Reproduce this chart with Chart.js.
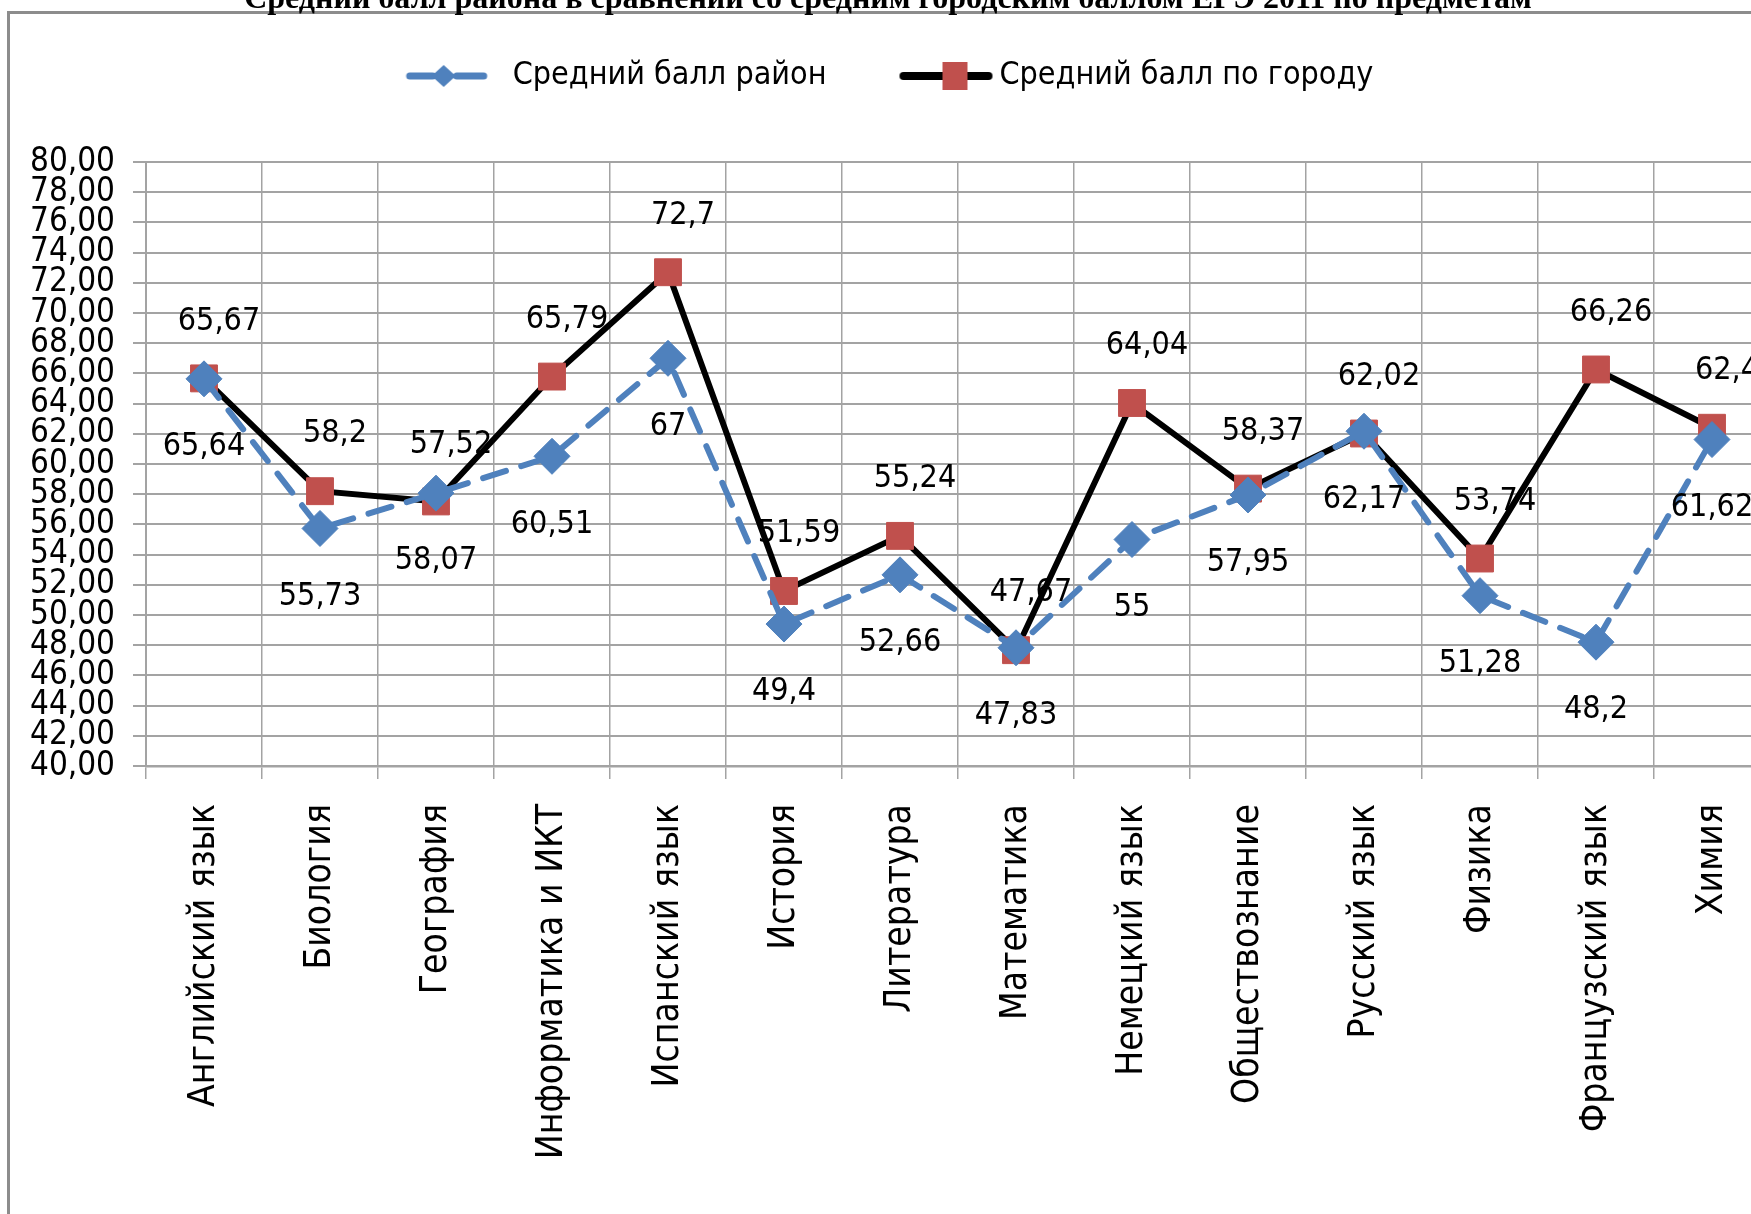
<!DOCTYPE html>
<html lang="ru">
<head>
<meta charset="utf-8">
<title>Средний балл района в сравнении со средним городским баллом ЕГЭ 2011</title>
<script src="https://cdn.jsdelivr.net/npm/chart.js@4.4.1/dist/chart.umd.min.js"></script>
<style>
  html, body { margin: 0; padding: 0; background: #fff; overflow: hidden; }
  body { width: 1751px; height: 1214px; position: relative; }
  #title {
    position: absolute; left: 0; top: -19px; width: 1776px;
    text-align: center; font: bold 32px "Liberation Serif", "Times New Roman", serif;
    line-height: 33px; color: #000; white-space: nowrap; z-index: 3;
  }
  #frame {
    position: absolute; left: 7px; top: 11px; width: 2000px; height: 2000px;
    border-left: 3px solid #8c8c8c; border-top: 3px solid #8c8c8c; z-index: 1;
  }
  #wrap { position: absolute; left: 0; top: 0; width: 1790px; height: 1214px; z-index: 2; }
</style>
</head>
<body>
<div id="title">Средний балл района в сравнении со средним городским баллом ЕГЭ 2011 по предметам</div>
<div id="frame"></div>
<div id="wrap"><canvas id="chart"></canvas></div>
<script>
// subjects on the x axis
const subjects = [
  "Английский язык", "Биология", "География", "Информатика и ИКТ",
  "Испанский язык", "История", "Литература", "Математика",
  "Немецкий язык", "Обществознание", "Русский язык", "Физика",
  "Французский язык", "Химия"
];

// average score of the district
const districtScores = [65.64, 55.73, 58.07, 60.51, 67, 49.4, 52.66, 47.83, 55, 57.95, 62.17, 51.28, 48.2, 61.62];
// average score of the city
const cityScores = [65.67, 58.2, 57.52, 65.79, 72.7, 51.59, 55.24, 47.67, 64.04, 58.37, 62.02, 53.74, 66.26, 62.4];

const seriesNames = ["Средний балл район", "Средний балл по городу"];

// y axis range
const yMin = 40;
const yMax = 80;
const yStep = 2;

const BLUE = "#4F81BD";
const RED = "#C0504D";
const GRID = "#a3a3a3";
const COND = '"DejaVu Sans Condensed", "DejaVu Sans", sans-serif';

// comma as decimal separator, like the source
const fmt = (v) => String(v).replace(".", ",");

// legend icons: line + marker, drawn on small canvases
function blueIcon() {
  const c = document.createElement("canvas");
  c.width = 100; c.height = 40;
  const g = c.getContext("2d");
  g.strokeStyle = BLUE; g.lineWidth = 7; g.lineCap = "round";
  g.beginPath(); g.moveTo(13, 20); g.lineTo(36, 20); g.stroke();
  g.beginPath(); g.moveTo(60, 20); g.lineTo(87, 20); g.stroke();
  g.fillStyle = BLUE;
  g.beginPath(); g.moveTo(35, 20); g.lineTo(47, 9); g.lineTo(59, 20); g.lineTo(47, 31); g.closePath(); g.fill();
  return c;
}
function redIcon() {
  const c = document.createElement("canvas");
  c.width = 126; c.height = 40;
  const g = c.getContext("2d");
  g.strokeStyle = "#000"; g.lineWidth = 8; g.lineCap = "round";
  g.beginPath(); g.moveTo(33, 20); g.lineTo(118, 20); g.stroke();
  g.fillStyle = RED;
  g.fillRect(72, 6, 25, 28);
  return c;
}
const legendIcons = [blueIcon(), redIcon()];

// where the value labels sit relative to each point
const labelShift = [
  { dx: 0, dy: 68 },   // district: below
  { dx: 15, dy: -57 }  // city: above
];

const valueLabels = {
  id: "valueLabels",
  afterDatasetsDraw(chart) {
    const ctx = chart.ctx;
    ctx.save();
    ctx.font = "32px " + COND;
    ctx.fillStyle = "#000";
    ctx.textAlign = "center";
    ctx.textBaseline = "middle";
    chart.data.datasets.forEach((ds, i) => {
      const meta = chart.getDatasetMeta(i);
      meta.data.forEach((pt, j) => {
        ctx.fillText(fmt(ds.data[j]), pt.x + labelShift[i].dx, pt.y + labelShift[i].dy);
      });
    });
    ctx.restore();
  }
};

const chartData = {
  labels: subjects,
  datasets: [
    {
      label: seriesNames[0],
      data: districtScores,
      borderColor: BLUE,
      backgroundColor: BLUE,
      borderWidth: 6,
      borderDash: [24, 16],
      borderCapStyle: "round",
      tension: 0,
      pointStyle: "rectRot",
      pointRadius: 18,
      pointBackgroundColor: BLUE,
      pointBorderColor: BLUE,
      pointBorderWidth: 1
    },
    {
      label: seriesNames[1],
      data: cityScores,
      borderColor: "#000",
      backgroundColor: RED,
      borderWidth: 6,
      tension: 0,
      pointStyle: "rect",
      pointRadius: 19,
      pointBackgroundColor: RED,
      pointBorderColor: RED,
      pointBorderWidth: 1
    }
  ]
};

const chartOptions = {
  responsive: true,
  maintainAspectRatio: false,
  animation: false,
  layout: { padding: { top: 3, left: 0, right: 20, bottom: 0 } },
  plugins: {
    tooltip: { enabled: false },
    legend: {
      position: "top",
      labels: {
        usePointStyle: true,
        pointStyleWidth: 100,
        padding: 57,
        color: "#000",
        font: { size: 32, family: COND },
        generateLabels: (chart) => chart.data.datasets.map((ds, i) => ({
          text: ds.label,
          pointStyle: legendIcons[i],
          fontColor: "#000",
          lineWidth: 0,
          datasetIndex: i
        }))
      }
    },
    // empty box that keeps the gap between legend and plot
    subtitle: {
      display: true,
      text: "",
      weight: 500,
      font: { size: 1, lineHeight: 1 },
      padding: { top: 59, bottom: 0 }
    }
  },
  scales: {
    x: {
      offset: true,
      grid: { offset: true, color: GRID, lineWidth: 1.5, tickLength: 13 },
      border: { color: GRID, width: 2.5 },
      ticks: {
        autoSkip: false,
        maxRotation: 90,
        minRotation: 90,
        padding: 25,
        color: "#000",
        font: { size: 37, family: COND }
      },
      afterFit: (scale) => { scale.height = 1214 - 766; }
    },
    y: {
      min: yMin,
      max: yMax,
      grid: { color: GRID, lineWidth: 2, tickLength: 13 },
      border: { color: GRID, width: 2 },
      ticks: {
        stepSize: yStep,
        autoSkip: false,
        padding: 18,
        color: "#000",
        font: { size: 33, family: COND, lineHeight: 1 },
        callback: (v) => v.toFixed(2).replace(".", ",")
      },
      afterFit: (scale) => { scale.width = 146; scale.paddingTop = 162; }
    }
  }
};

new Chart(document.getElementById("chart").getContext("2d"), {
  type: "line",
  data: chartData,
  options: chartOptions,
  plugins: [valueLabels]
});
</script>
</body>
</html>
